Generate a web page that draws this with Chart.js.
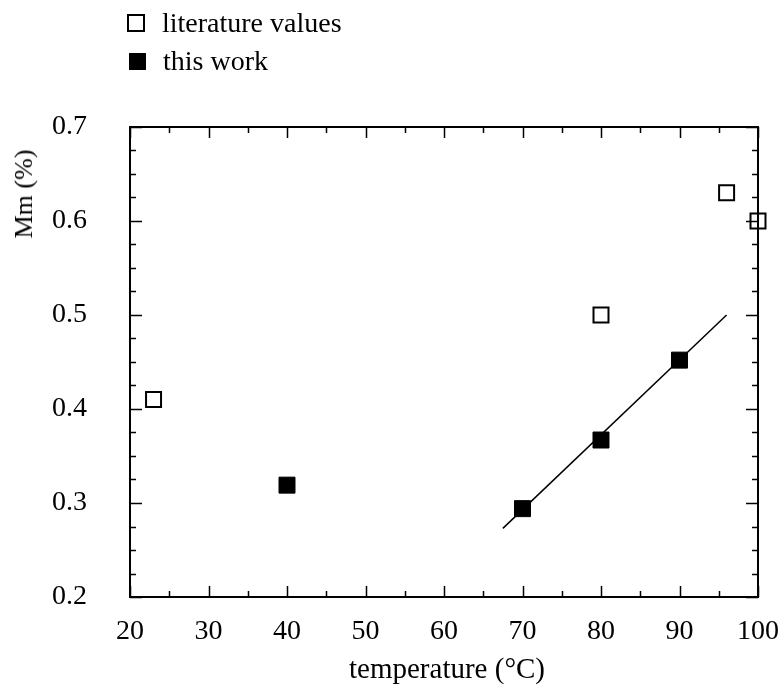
<!DOCTYPE html>
<html>
<head>
<meta charset="utf-8">
<script src="https://cdn.jsdelivr.net/npm/chart.js@4/dist/chart.umd.min.js"></script>
<style>
  body { margin: 0; background: #fff; }
  #wrap { position: relative; width: 782px; height: 687px; font-family: "Liberation Serif", "DejaVu Serif", serif; color: #000; }
  .leg { position: absolute; left: 127px; font-size: 28px; line-height: 28px; display: flex; align-items: center; transform: translateY(-50%); }
  .box { box-sizing: border-box; width: 18px; height: 18px; border: 2.5px solid #000; margin-right: 17px; }
  .box.fill { background: #000; width: 17px; height: 17px; border: 0; margin: 0 17px 0 2px; }
  #ytitle { position: absolute; left: 24px; top: 194px; font-size: 26px; transform: translate(-50%, -50%) rotate(-90deg); white-space: nowrap; }
  #xtitle { position: absolute; left: 447px; top: 668px; font-size: 29px; transform: translate(-50%, -50%); white-space: nowrap; }
</style>
</head>
<body>
<div id="wrap">
  <canvas id="chart" width="782" height="687"></canvas>
  <div class="leg" style="top:23px"><span class="box"></span>literature values</div>
  <div class="leg" style="top:61px"><span class="box fill"></span>this work</div>
  <div id="ytitle">Mm (%)</div>
  <div id="xtitle">temperature (°C)</div>
</div>
<script>
// literature values (open squares)
const litTemp = [23, 80, 96, 100];
const litMm = [0.41, 0.50, 0.63, 0.60];

// this work (filled squares)
const workTemp = [40, 70, 80, 90];
const workMm = [0.319, 0.294, 0.367, 0.452];

// fitted line through the high temperature points
const fitTemp = [67.5, 96];
const fitMm = [0.273, 0.50];

// axis ranges and tick labels
const xTicks = [20, 30, 40, 50, 60, 70, 80, 90, 100];
const yTicks = [0.2, 0.3, 0.4, 0.5, 0.6, 0.7];
const xMinorStep = 5;
const yMinorStep = 0.025;

const toPoints = (xs, ys) => xs.map((x, i) => ({ x: x, y: ys[i] }));

// frame with inward ticks on all four sides
const frameTicks = {
    id: 'frameTicks',
    afterDraw(chart) {
        const { ctx, chartArea: a, scales: { x, y } } = chart;
        ctx.save();
        ctx.strokeStyle = '#000';
        ctx.lineWidth = 2;
        ctx.strokeRect(a.left, a.top, a.right - a.left, a.bottom - a.top);
        ctx.lineWidth = 1.5;
        ctx.beginPath();
        for (let v = xTicks[0]; v <= xTicks[xTicks.length - 1] + 0.001; v += xMinorStep) {
            const px = Math.round(x.getPixelForValue(v)) + 0.5;
            const len = xTicks.includes(Math.round(v)) ? 11 : 6;
            ctx.moveTo(px, a.bottom); ctx.lineTo(px, a.bottom - len);
            ctx.moveTo(px, a.top); ctx.lineTo(px, a.top + len);
        }
        for (let v = yTicks[0]; v <= yTicks[yTicks.length - 1] + 0.001; v += yMinorStep) {
            const py = Math.round(y.getPixelForValue(v)) + 0.5;
            const major = yTicks.some(t => Math.abs(t - v) < 0.001);
            const len = major ? 12 : 6;
            ctx.moveTo(a.left, py); ctx.lineTo(a.left + len, py);
            ctx.moveTo(a.right, py); ctx.lineTo(a.right - len, py);
        }
        ctx.stroke();
        ctx.restore();
    }
};

const tickFont = { family: '"Liberation Serif", serif', size: 28 };

new Chart(document.getElementById('chart'), {
    type: 'scatter',
    data: {
        datasets: [
            {
                label: 'fit',
                type: 'line',
                data: toPoints(fitTemp, fitMm),
                borderColor: '#000',
                borderWidth: 1.5,
                pointRadius: 0,
                fill: false
            },
            {
                label: 'literature values',
                data: toPoints(litTemp, litMm),
                pointStyle: 'rect',
                pointRadius: 10.6,
                borderColor: '#000',
                borderWidth: 2,
                backgroundColor: '#fff',
                clip: false
            },
            {
                label: 'this work',
                data: toPoints(workTemp, workMm),
                pointStyle: 'rect',
                pointRadius: 11.3,
                borderColor: '#000',
                borderWidth: 1,
                backgroundColor: '#000',
                clip: false
            }
        ]
    },
    options: {
        responsive: false,
        animation: false,
        layout: { padding: { top: 127, right: 24, left: 0, bottom: 0 } },
        plugins: { legend: { display: false }, tooltip: { enabled: false } },
        scales: {
            x: {
                type: 'linear',
                min: 20, max: 100,
                afterFit(s) { s.height = 90; s.paddingLeft = 0; s.paddingRight = 0; },
                afterBuildTicks(s) { s.ticks = xTicks.map(v => ({ value: v })); },
                grid: { display: false },
                border: { display: false },
                ticks: { color: '#000', font: tickFont, padding: 10, maxRotation: 0, callback: v => String(v) }
            },
            y: {
                type: 'linear',
                min: 0.2, max: 0.7,
                afterFit(s) { s.width = 130; s.paddingTop = 0; s.paddingBottom = 0; },
                afterBuildTicks(s) { s.ticks = yTicks.map(v => ({ value: v })); },
                grid: { display: false },
                border: { display: false },
                ticks: { color: '#000', font: tickFont, padding: 35, callback: v => v.toFixed(1) }
            }
        }
    },
    plugins: [frameTicks]
});
</script>
</body>
</html>
